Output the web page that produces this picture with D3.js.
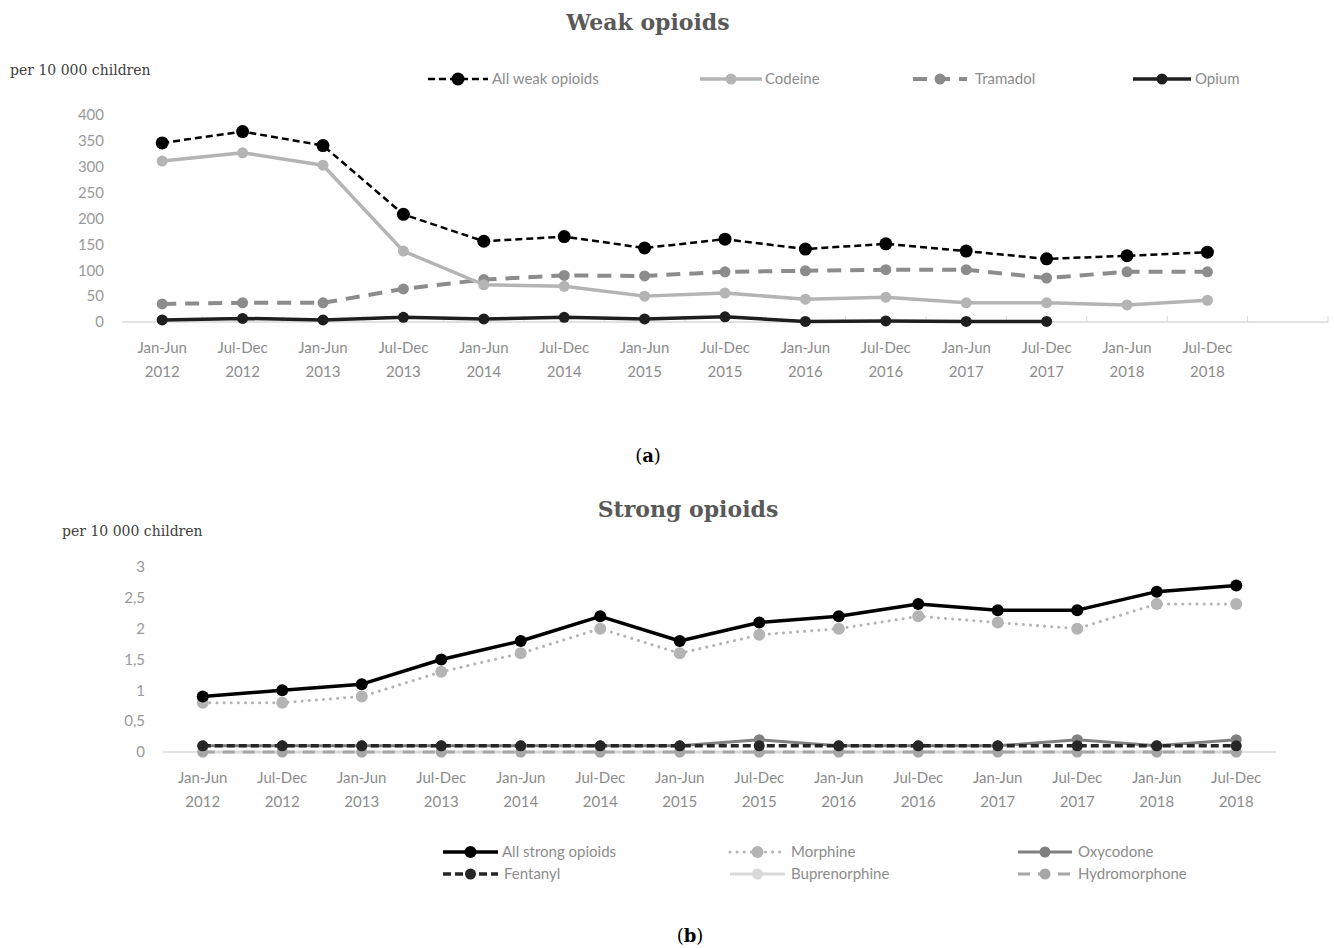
<!DOCTYPE html>
<html>
<head>
<meta charset="utf-8">
<script src="https://cdn.jsdelivr.net/npm/d3@7"></script>
<style>
  body { margin: 0; background: #fff; }
  svg text { font-family: Lato, "Open Sans", sans-serif; }
</style>
</head>
<body>
<div id="chart"></div>
<script>
'use strict';
// half-year periods
var periods = [
    ['Jan-Jun', '2012'], ['Jul-Dec', '2012'], ['Jan-Jun', '2013'], ['Jul-Dec', '2013'],
    ['Jan-Jun', '2014'], ['Jul-Dec', '2014'], ['Jan-Jun', '2015'], ['Jul-Dec', '2015'],
    ['Jan-Jun', '2016'], ['Jul-Dec', '2016'], ['Jan-Jun', '2017'], ['Jul-Dec', '2017'],
    ['Jan-Jun', '2018'], ['Jul-Dec', '2018']
];

// weak opioids, per 10 000 children
var allWeak = [346, 368, 341, 208, 156, 165, 143, 160, 141, 151, 137, 122, 128, 135];
var codeine = [311, 327, 303, 137, 72, 69, 50, 56, 44, 48, 37, 37, 33, 42];
var tramadol = [35, 37, 37, 64, 82, 90, 89, 97, 99, 101, 101, 85, 97, 97];
var opium = [4, 7, 4, 9, 6, 9, 6, 10, 1, 2, 1, 1, null, null];
var weakTicks = [0, 50, 100, 150, 200, 250, 300, 350, 400];

// strong opioids, per 10 000 children
var allStrong = [0.9, 1.0, 1.1, 1.5, 1.8, 2.2, 1.8, 2.1, 2.2, 2.4, 2.3, 2.3, 2.6, 2.7];
var morphine = [0.8, 0.8, 0.9, 1.3, 1.6, 2.0, 1.6, 1.9, 2.0, 2.2, 2.1, 2.0, 2.4, 2.4];
var oxycodone = [0.1, 0.1, 0.1, 0.1, 0.1, 0.1, 0.1, 0.2, 0.1, 0.1, 0.1, 0.2, 0.1, 0.2];
var fentanyl = [0.1, 0.1, 0.1, 0.1, 0.1, 0.1, 0.1, 0.1, 0.1, 0.1, 0.1, 0.1, 0.1, 0.1];
var buprenorphine = [0, 0, 0, 0, 0, 0, 0, 0, 0, 0, 0, 0, 0, 0];
var hydromorphone = [0, 0, 0, 0, 0, 0, 0, 0, 0, 0, 0, 0, 0, 0];
var strongTicks = [0, 0.5, 1, 1.5, 2, 2.5, 3];

var svg = d3.select('#chart').append('svg')
    .attr('width', 1334)
    .attr('height', 948);

var commaFormat = d3.formatLocale({decimal: ',', thousands: ' ', grouping: [3], currency: ['', '']}).format('~g');

function drawChart(opt) {
    var keys = periods.map(function (p, i) { return 'p' + i; });
    if (opt.extraBand) keys.push('empty');
    var x = d3.scaleBand().domain(keys).range([opt.x0, opt.x1]);
    var y = d3.scaleLinear().domain(opt.yDomain).range([opt.y0, opt.y1]);
    var g = svg.append('g');

    g.append('text')
        .attr('x', opt.titleX).attr('y', opt.titleY)
        .attr('text-anchor', 'middle')
        .style('font-family', '"DejaVu Serif", serif')
        .style('font-weight', 'bold')
        .style('font-size', '22px')
        .attr('fill', '#595959')
        .text(opt.title);

    g.append('text')
        .attr('x', opt.unitX).attr('y', opt.unitY)
        .style('font-family', '"DejaVu Serif", serif')
        .style('font-size', '14px')
        .attr('fill', '#404040')
        .text('per 10 000 children');

    // y axis labels only
    var yAxis = d3.axisLeft(y).tickValues(opt.ticks).tickSize(0).tickPadding(0)
        .tickFormat(opt.format);
    var ya = g.append('g').attr('transform', 'translate(' + opt.yLabelX + ',0)').call(yAxis);
    ya.select('.domain').remove();
    ya.selectAll('text')
        .style('font-family', 'Lato, sans-serif')
        .style('font-size', '15px')
        .attr('fill', '#9a9a9a');

    // x baseline
    g.append('line')
        .attr('x1', opt.x0).attr('x2', opt.x1)
        .attr('y1', y(0)).attr('y2', y(0))
        .attr('stroke', '#d9d9d9').attr('stroke-width', 1.3);
    if (opt.extraBand) {
        g.selectAll('line.tick').data(keys.slice(1).concat(['end']))
            .enter().append('line')
            .attr('class', 'tick')
            .attr('x1', function (k) { return k === 'end' ? opt.x1 : x(k); })
            .attr('x2', function (k) { return k === 'end' ? opt.x1 : x(k); })
            .attr('y1', y(0)).attr('y2', y(0) - 6)
            .attr('stroke', '#d9d9d9').attr('stroke-width', 1);
    }

    var labels = g.append('g');
    periods.forEach(function (p, i) {
        var cx = x('p' + i) + x.bandwidth() / 2;
        p.forEach(function (line, j) {
            labels.append('text')
                .attr('x', cx).attr('y', opt.labelY + j * 24)
                .attr('text-anchor', 'middle')
                .style('font-size', '15px')
                .attr('fill', '#8c8c8c')
                .text(line);
        });
    });

    var line = d3.line()
        .defined(function (d) { return d != null; })
        .x(function (d, i) { return x('p' + i) + x.bandwidth() / 2; })
        .y(function (d) { return y(d); });

    opt.series.forEach(function (s) {
        g.append('path')
            .attr('d', line(s.values))
            .attr('fill', 'none')
            .attr('stroke', s.color)
            .attr('stroke-width', s.width)
            .attr('stroke-dasharray', s.dash || null)
            .attr('stroke-linecap', s.cap || 'butt')
            .attr('stroke-linejoin', 'round');
        g.selectAll(null).data(s.values.map(function (v, i) { return {v: v, i: i}; })
            .filter(function (d) { return d.v != null; }))
            .enter().append('circle')
            .attr('cx', function (d) { return x('p' + d.i) + x.bandwidth() / 2; })
            .attr('cy', function (d) { return y(d.v); })
            .attr('r', s.r)
            .attr('fill', s.marker || s.color);
    });

    // legend
    opt.series.forEach(function (s) {
        var lg = g.append('g').attr('transform', 'translate(' + s.lx + ',' + s.ly + ')');
        lg.append('line')
            .attr('x1', 0).attr('x2', s.lw).attr('y1', 0).attr('y2', 0)
            .attr('stroke', s.color).attr('stroke-width', s.width)
            .attr('stroke-dasharray', s.dash || null)
            .attr('stroke-linecap', s.cap || 'butt');
        lg.append('circle').attr('cx', s.lw / 2).attr('cy', 0).attr('r', s.r)
            .attr('fill', s.marker || s.color);
        lg.append('text')
            .attr('x', s.lw + s.gap).attr('y', 5)
            .style('font-size', '15px')
            .attr('fill', '#8c8c8c')
            .text(s.name);
    });
}

drawChart({
    title: 'Weak opioids', titleX: 648, titleY: 30,
    unitX: 10, unitY: 75,
    x0: 122, x1: 1328, extraBand: true,
    y0: 322, y1: 115, yDomain: [0, 400], ticks: weakTicks,
    format: d3.format('d'), yLabelX: 104,
    labelY: 353,
    series: [
        {name: 'Tramadol', values: tramadol, color: '#8c8c8c', width: 4, dash: '14,9', r: 5.5, lx: 913, ly: 79, lw: 54, gap: 8},
        {name: 'Codeine', values: codeine, color: '#b4b4b4', width: 3.5, r: 5.5, lx: 700, ly: 79, lw: 62, gap: 3},
        {name: 'Opium', values: opium, color: '#1e1e1e', width: 3.5, r: 5.5, lx: 1133, ly: 79, lw: 58, gap: 4},
        {name: 'All weak opioids', values: allWeak, color: '#000', width: 2.5, dash: '7,4', r: 6.5, lx: 428, ly: 79, lw: 60, gap: 4}
    ]
});

svg.append('text')
    .attr('x', 648).attr('y', 462)
    .attr('text-anchor', 'middle')
    .style('font-family', '"DejaVu Serif", serif')
    .style('font-size', '18px')
    .attr('fill', '#000')
    .html('(<tspan font-weight="bold">a</tspan>)');

drawChart({
    title: 'Strong opioids', titleX: 688, titleY: 517,
    unitX: 62, unitY: 536,
    x0: 163, x1: 1276, extraBand: false,
    y0: 752, y1: 567, yDomain: [0, 3], ticks: strongTicks,
    format: commaFormat, yLabelX: 145,
    labelY: 783,
    series: [
        {name: 'Buprenorphine', values: buprenorphine, color: '#d9d9d9', width: 3, r: 5.5, lx: 730, ly: 874, lw: 55, gap: 6},
        {name: 'Hydromorphone', values: hydromorphone, color: '#a6a6a6', width: 3, dash: '12,8', r: 5.5, lx: 1018, ly: 874, lw: 54, gap: 6},
        {name: 'Oxycodone', values: oxycodone, color: '#808080', width: 3, r: 5.5, lx: 1018, ly: 852, lw: 54, gap: 6},
        {name: 'Fentanyl', values: fentanyl, color: '#262626', width: 3.5, dash: '8,4', r: 5.5, lx: 443, ly: 874, lw: 55, gap: 6},
        {name: 'Morphine', values: morphine, color: '#b4b4b4', width: 3, dash: '0.1,7', cap: 'round', r: 6, lx: 730, ly: 852, lw: 55, gap: 6},
        {name: 'All strong opioids', values: allStrong, color: '#000', width: 3.5, r: 6, lx: 443, ly: 852, lw: 55, gap: 4}
    ]
});

svg.append('text')
    .attr('x', 690).attr('y', 942)
    .attr('text-anchor', 'middle')
    .style('font-family', '"DejaVu Serif", serif')
    .style('font-size', '18px')
    .attr('fill', '#000')
    .html('(<tspan font-weight="bold">b</tspan>)');
</script>
</body>
</html>
